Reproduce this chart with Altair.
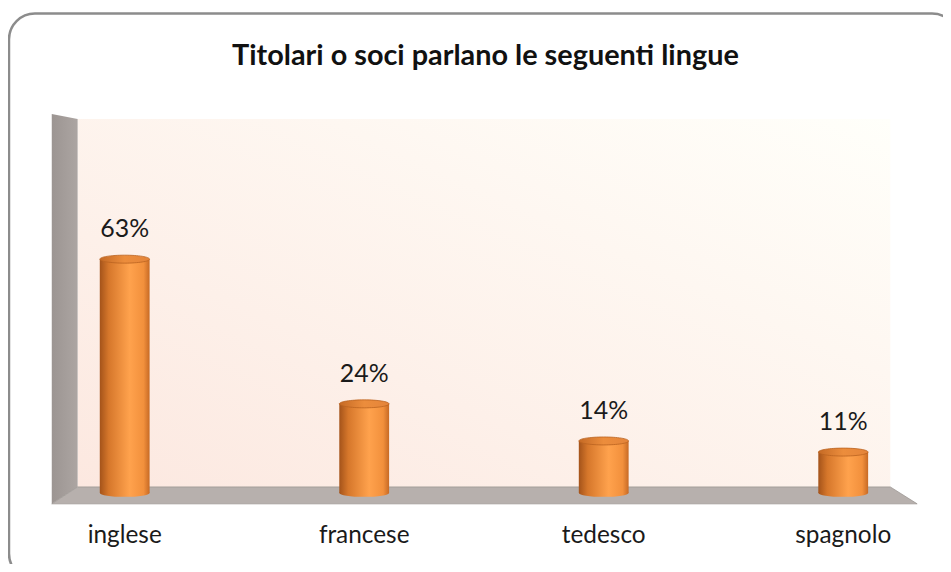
import altair as alt
import pandas as pd

# ---- data ----
lingue = ["inglese", "francese", "tedesco", "spagnolo"]
quote = [0.63, 0.24, 0.14, 0.11]
etichette = ["63%", "24%", "14%", "11%"]
titolo = "Titolari o soci parlano le seguenti lingue"

df = pd.DataFrame({"lingua": lingue, "quota": quote, "etichetta": etichette})

W, H = 817, 373
FONT = "Lato"
one = alt.Data(values=[{"k": 1}])

xscale = alt.Scale(domain=lingue, paddingInner=0.792, paddingOuter=0.0925)
yscale = alt.Scale(domain=[0, 1])

body_grad = alt.Gradient(
    gradient="linear", x1=0, y1=0, x2=1, y2=0,
    stops=[
        alt.GradientStop(offset=0, color="#a4531a"),
        alt.GradientStop(offset=0.18, color="#d6772b"),
        alt.GradientStop(offset=0.6, color="#ffa24d"),
        alt.GradientStop(offset=0.88, color="#f2903c"),
        alt.GradientStop(offset=1, color="#c76a25"),
    ],
)
cap_grad = alt.Gradient(
    gradient="linear", x1=0, y1=0, x2=1, y2=0,
    stops=[
        alt.GradientStop(offset=0, color="#c56a25"),
        alt.GradientStop(offset=0.5, color="#ec8d3c"),
        alt.GradientStop(offset=1, color="#e4843a"),
    ],
)
wall_grad = alt.Gradient(
    gradient="linear", x1=0, y1=1, x2=1, y2=0,
    stops=[
        alt.GradientStop(offset=0, color="#fce8e0"),
        alt.GradientStop(offset=1, color="#fffffa"),
    ],
)
side_grad = alt.Gradient(
    gradient="linear", x1=0, y1=0, x2=1, y2=0,
    stops=[
        alt.GradientStop(offset=0, color="#9c9592"),
        alt.GradientStop(offset=1, color="#aca5a2"),
    ],
)

ELLIPSE = ("M -1 0 C -1 -0.09 -0.55 -0.16 0 -0.16 C 0.55 -0.16 1 -0.09 1 0 "
           "C 1 0.09 0.55 0.16 0 0.16 C -0.55 0.16 -1 0.09 -1 0 Z")

# outer rounded frame
frame = alt.Chart(one).mark_rect(
    cornerRadius=26, fill="white", stroke="#8c8c8c", strokeWidth=2.5
).encode(x=alt.value(-69), x2=alt.value(885), y=alt.value(-109), y2=alt.value(460))

# back wall
back = alt.Chart(one).mark_rect(fill=wall_grad).encode(
    x=alt.value(0), x2=alt.value(817), y=alt.value(-3), y2=alt.value(367)
)

# left wall and floor (pixel-unit custom symbols, size=4 -> scale 1)
left_wall = alt.Chart(one).mark_point(
    shape="M -26 -8 L 0 -3 L 0 367 L -26 384 Z", size=4, filled=True,
    fill=side_grad, opacity=1, strokeWidth=0
).encode(x=alt.value(0), y=alt.value(0))

floor = alt.Chart(one).mark_point(
    shape="M 0 367 L 817 367 L 844 384 L -26 384 Z", size=4, filled=True,
    fill="#b7b0ad", opacity=1, stroke="#9d9794", strokeWidth=0.8
).encode(x=alt.value(0), y=alt.value(0))

base = alt.Chart(df).encode(
    x=alt.X("lingua:N", scale=xscale, sort=lingue,
            axis=alt.Axis(title=None, domain=False, ticks=False, tickSize=0,
                          labelAngle=0, labelFont=FONT, labelFontSize=24.5,
                          labelColor="#1a1a1a", labelPadding=31, grid=False,
                          zindex=1)),
)

bottom_cap = base.mark_point(
    shape=ELLIPSE, size=2500, filled=True, fill=body_grad, opacity=1, strokeWidth=0
).encode(y=alt.Y("zero:Q", scale=yscale, axis=None)).transform_calculate(zero="0")

body = base.mark_bar(fill=body_grad).encode(
    y=alt.Y("quota:Q", scale=yscale, axis=None)
)

top_cap = base.mark_point(
    shape=ELLIPSE, size=2500, filled=True, fill=cap_grad, opacity=1,
    stroke="#b9621f", strokeWidth=0.8
).encode(y=alt.Y("quota:Q", scale=yscale, axis=None))

labels = base.mark_text(
    font=FONT, fontSize=25, color="#1a1a1a", baseline="middle", dy=-30
).encode(y=alt.Y("quota:Q", scale=yscale, axis=None), text="etichetta:N")

title = alt.Chart(one).mark_text(
    text=titolo, font=FONT, fontSize=29, fontWeight="bold", color="#111111",
    baseline="middle", align="center"
).encode(x=alt.value(410), y=alt.value(-66))

chart = alt.layer(
    frame, back, left_wall, floor, bottom_cap, body, top_cap, labels, title
).properties(
    width=W, height=H,
    padding={"left": 70, "top": 113, "right": 53, "bottom": 70},
    autosize=alt.AutoSizeParams(type="none"),
).configure_view(stroke=None).configure(background="white")

chart.save("out.html", embed_options={"renderer": "svg", "actions": False})
